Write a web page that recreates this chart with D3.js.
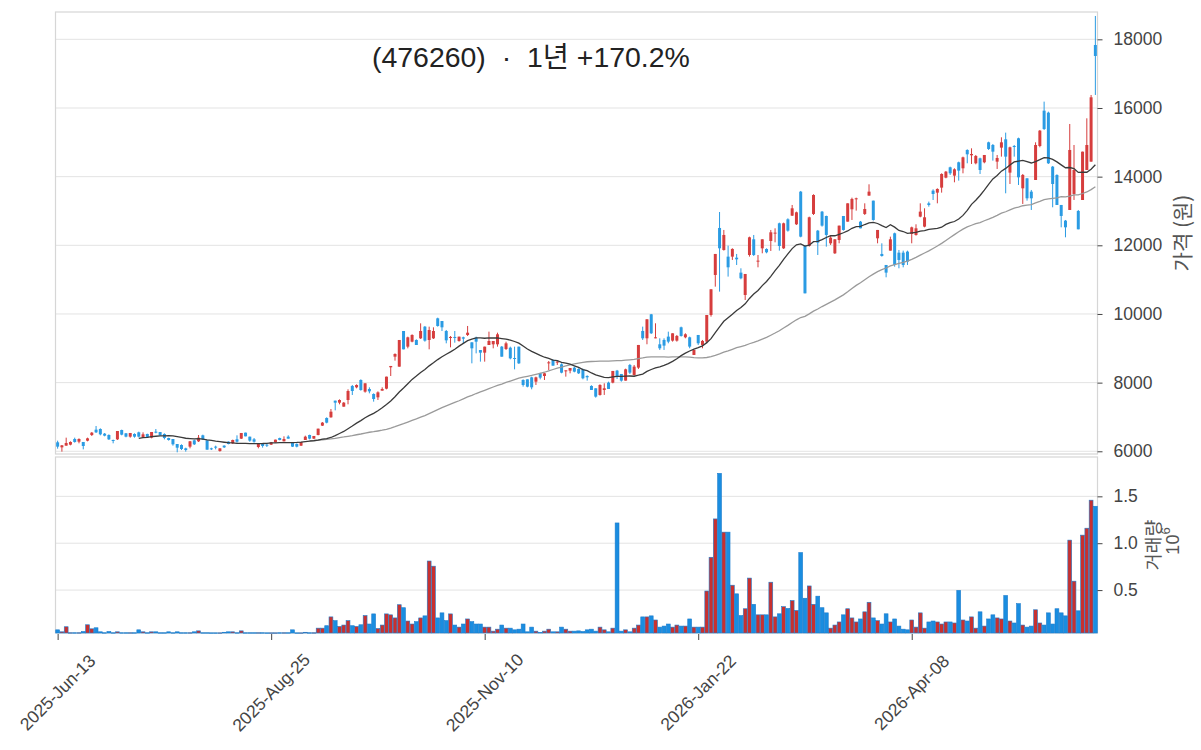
<!DOCTYPE html>
<html><head><meta charset="utf-8">
<script src="https://cdn.jsdelivr.net/npm/d3@7"></script>
<style>body{margin:0;background:#fff}svg{display:block}</style>
</head><body><svg id="c" width="1201" height="750"></svg>
<script>
// ---- data ----
const titleText = "(476260)  ·  1년 +170.2%";
const tickIndex = [0, 50, 100, 150, 200];
const tickLabels = ["2025-Jun-13", "2025-Aug-25", "2025-Nov-10", "2026-Jan-22", "2026-Apr-08"];
const priceTicks = [6000, 8000, 10000, 12000, 14000, 16000, 18000];
const volumeTicks = [0.5, 1.0, 1.5];

const opens = [6261,6115,6164,6193,6358,6280,6271,6309,6474,6630,6649,6513,6474,6329,6348,6620,6523,6426,6504,6552,
6407,6504,6397,6572,6562,6504,6387,6358,6212,6183,6086,6135,6319,6290,6465,6319,6086,6135,6008,6164,
6280,6232,6349,6368,6543,6426,6349,6125,6212,6193,6193,6261,6387,6290,6426,6261,6212,6164,6329,6475,
6368,6475,6747,6970,6989,7475,7416,7300,7494,7902,7863,8077,7737,7815,7669,7572,7766,7824,8446,8756,
8465,9504,9048,9193,9242,9290,9630,9242,9290,9873,9795,9504,9300,9330,9213,9320,9388,9174,9310,8950,
8873,9096,9116,9116,9048,8980,9018,8717,9048,8077,8096,8154,8028,8271,8193,8581,8660,8591,8533,8349,
8349,8436,8397,8388,8194,7903,7835,7641,7786,7999,7999,8350,8252,8058,8514,8223,8437,9505,9291,9990,
9300,9116,9243,9340,9223,9223,9612,9320,9320,8806,9388,9097,9194,9970,11136,12505,11864,11670,11670,11640,
11204,10553,11718,12175,11533,11912,11893,12126,12350,12641,11912,12757,12864,12612,13563,11980,11980,12913,12427,12981,
12854,12058,11767,12155,12854,12689,13049,13340,12689,12913,13447,13301,12204,11748,11427,11845,12350,11786,11786,11816,
12330,12301,12835,12544,13223,13592,13534,13680,13971,14272,14029,14418,14243,14777,14622,14389,14534,14418,15000,14922,
14437,14845,15088,14117,14893,15117,13660,13952,13563,13903,14893,15922,15864,14291,14049,13175,12719,13029,13495,13000,
13320,14194,14437,17835];
const highs = [6309,6183,6397,6290,6397,6377,6271,6397,6562,6737,6669,6533,6494,6339,6591,6630,6533,6533,6523,6572,
6552,6513,6562,6649,6562,6523,6397,6358,6212,6203,6105,6300,6339,6474,6484,6319,6105,6164,6086,6174,
6290,6339,6465,6533,6543,6426,6387,6222,6232,6212,6271,6339,6397,6436,6465,6261,6232,6271,6455,6484,
6446,6659,6853,6989,7232,7475,7513,7435,7805,7931,7950,8096,7980,7863,7688,7746,7863,8174,8485,8853,
9242,9504,9339,9407,9261,9727,9650,9630,9611,9892,9795,9533,9358,9504,9339,9339,9650,9174,9339,8950,
9048,9485,9213,9455,9067,9193,9048,9048,9048,8096,8096,8174,8174,8290,8290,8630,8679,8640,8562,8358,
8426,8465,8417,8407,8213,7922,7835,7951,7980,8028,8340,8370,8252,8407,8544,8514,9097,9631,9845,10000,
9728,9291,9291,9485,9437,9388,9631,9437,9340,8952,9388,9243,9970,10719,11748,12970,12447,11990,11913,11748,
11330,11165,12252,12301,11718,12175,11912,12447,12495,12660,12660,12786,13175,12981,13583,12010,12835,13486,12447,13000,
12864,12272,12175,12573,12854,13223,13388,13388,12709,13223,13777,13301,12447,12058,11427,12252,12369,11864,11845,11845,
12544,12612,13223,13078,13272,13631,13660,14097,14165,14291,14243,14437,14583,14796,14825,14631,14553,14631,15019,14951,
14631,15146,15282,14874,14922,15136,14078,13952,13612,15000,15359,16185,15893,14311,14068,13175,12738,15534,14922,13029,
14728,15699,16379,18680];
const lows = [6076,5989,6164,6174,6251,6232,6057,6290,6445,6533,6465,6436,6329,6232,6329,6465,6407,6397,6397,6407,
6387,6397,6377,6523,6465,6348,6310,6164,5970,6037,5989,6086,6183,6271,6329,6047,6037,6057,5989,6096,
6203,6212,6251,6358,6436,6280,6251,6086,6106,6125,6183,6251,6319,6290,6368,6125,6115,6154,6329,6348,
6358,6465,6737,6814,6979,7193,7368,7300,7368,7640,7834,7766,7708,7688,7446,7494,7766,7805,8193,8640,
8465,8970,8999,9174,9096,9271,9193,8970,9271,9630,9504,9145,9028,9164,9193,9145,9358,8562,8853,8611,
8611,9096,8999,9048,8756,8951,8679,8387,8543,7883,7863,7805,7931,8096,8077,8368,8494,8514,8271,8174,
8271,8300,8252,8097,8058,7786,7563,7622,7641,7815,7980,8107,8029,8058,8252,8204,8398,9243,9117,9418,
9291,8952,8952,9146,9194,9194,9340,9291,9000,8806,9097,9000,9146,9923,10796,10651,11845,11088,11573,11427,
11010,10407,11670,11689,11359,11767,11767,11835,12087,11845,11893,12398,12854,12592,12233,10601,11961,12883,11718,12544,
11961,12010,11748,12058,12427,12689,12738,13010,12495,12883,13447,12719,12058,11670,11068,11845,11378,11330,11359,11427,
12058,12282,12816,12524,13126,13320,13223,13534,13952,14049,13835,13884,14097,14389,14369,14359,14078,14389,14777,14466,
14224,14583,13515,13786,14583,13757,13204,13301,13029,13903,14855,15359,14369,13107,13175,12524,12233,13029,13321,12466,
13320,14194,14437,16379];
const closes = [6135,6173,6241,6271,6271,6358,6154,6377,6542,6552,6494,6455,6348,6310,6591,6484,6426,6533,6426,6426,
6494,6407,6562,6543,6465,6387,6329,6203,6105,6067,6037,6290,6203,6397,6348,6047,6076,6115,6086,6115,
6212,6329,6280,6533,6436,6310,6280,6212,6154,6174,6261,6339,6329,6358,6368,6135,6135,6271,6426,6368,
6446,6659,6834,6834,7154,7416,7494,7416,7756,7756,7931,7785,7980,7746,7523,7717,7815,8174,8485,8834,
9242,8970,9320,9388,9096,9504,9223,9533,9504,9650,9611,9232,9330,9310,9339,9281,9455,8999,9193,8873,
9048,9213,9213,9407,8756,9145,8707,8698,8562,7931,7882,7863,8154,8145,8271,8591,8494,8611,8290,8358,
8426,8319,8271,8126,8155,7786,7592,7932,7835,7815,8340,8175,8058,8388,8291,8466,9097,9291,9845,9437,
9320,9000,9078,9194,9437,9359,9359,9408,9049,8952,9146,9214,9970,10719,11748,11913,12301,11359,11894,11592,
11039,11165,12233,11718,11553,12175,11796,12379,12369,11980,12641,12427,13078,12961,12252,10601,12816,13466,12077,12573,
12301,12223,12175,12573,12447,13223,13350,13369,12495,13058,13563,12738,12447,11689,11204,12175,11427,11573,11427,11524,
12524,12495,12981,12816,13175,13495,13641,14078,14146,14097,14214,14175,14563,14651,14660,14602,14194,14631,14806,14728,
14544,15000,14583,14855,14883,13981,14049,13369,13369,14922,15340,15388,14389,13786,13175,12855,12524,14777,14194,12466,
14728,14922,16311,17515];
// volume in millions of shares
const volumes = [0.076,0.055,0.109,0.045,0.045,0.045,0.058,0.13,0.087,0.098,0.055,0.045,0.058,0.045,0.055,0.045,0.045,0.045,0.045,0.076,
0.055,0.045,0.055,0.055,0.045,0.045,0.055,0.045,0.055,0.045,0.045,0.045,0.055,0.065,0.045,0.045,0.044,0.044,0.044,0.05,
0.055,0.055,0.045,0.065,0.045,0.045,0.045,0.045,0.045,0.044,0.044,0.044,0.045,0.045,0.045,0.076,0.044,0.044,0.05,0.045,
0.045,0.094,0.094,0.12,0.214,0.174,0.112,0.127,0.174,0.12,0.112,0.13,0.228,0.138,0.246,0.09,0.127,0.246,0.236,0.203,
0.344,0.312,0.17,0.138,0.163,0.203,0.225,0.81,0.755,0.203,0.257,0.174,0.246,0.127,0.105,0.138,0.192,0.163,0.138,0.138,
0.105,0.105,0.062,0.083,0.127,0.094,0.094,0.076,0.083,0.138,0.055,0.105,0.062,0.047,0.062,0.083,0.055,0.055,0.105,0.083,
0.062,0.062,0.065,0.058,0.076,0.083,0.062,0.105,0.076,0.055,0.094,1.216,0.062,0.076,0.055,0.094,0.127,0.214,0.214,0.225,
0.181,0.105,0.116,0.138,0.105,0.127,0.116,0.116,0.192,0.105,0.105,0.105,0.49,0.85,1.259,1.745,1.118,1.118,0.552,0.46,
0.228,0.301,0.628,0.348,0.236,0.236,0.236,0.584,0.214,0.247,0.323,0.304,0.388,0.283,0.9,0.413,0.544,0.348,0.435,0.312,
0.257,0.094,0.127,0.16,0.236,0.301,0.203,0.16,0.192,0.268,0.37,0.203,0.174,0.138,0.247,0.16,0.192,0.116,0.083,0.076,
0.181,0.105,0.257,0.094,0.16,0.17,0.16,0.138,0.16,0.16,0.149,0.497,0.181,0.17,0.214,0.094,0.268,0.116,0.192,0.236,
0.203,0.192,0.442,0.17,0.149,0.355,0.127,0.105,0.116,0.29,0.149,0.127,0.257,0.138,0.301,0.257,0.225,1.033,0.595,0.279,
1.086,1.16,1.459,1.394];

// ---- layout ----
const N = closes.length;
const L = 55.5, R = 1097.5;
const pTop = 12, pBot = 454, vTop = 457, vBot = 633;
const upC = "#d63d3d", dnC = "#2a9be3";
const upV = "#c8302f", dnV = "#1a8de0";
const font = "'Liberation Sans', 'Noto Sans CJK KR', sans-serif";
const kfont = "'Noto Sans CJK KR', sans-serif";

const svg = d3.select("#c");
const x = d3.scaleLinear().domain([-0.5, N - 0.5]).range([L, R]);
const step = x(1) - x(0);
const y = d3.scaleLinear().domain([5921, 18796]).range([pBot, pTop]);
const yv = d3.scaleLinear().domain([0.3 * d3.min(volumes) * 3.2, 1.1 * d3.max(volumes)]).range([vBot, vTop]);

// grids
svg.append("g").selectAll("line").data(priceTicks).join("line")
  .attr("x1", L).attr("x2", R).attr("y1", d => y(d)).attr("y2", d => y(d))
  .attr("stroke", "#e3e3e3").attr("stroke-width", 1);
svg.append("g").selectAll("line").data(volumeTicks).join("line")
  .attr("x1", L).attr("x2", R).attr("y1", d => yv(d)).attr("y2", d => yv(d))
  .attr("stroke", "#e3e3e3").attr("stroke-width", 1);

// panels frames
svg.append("rect").attr("x", L).attr("y", pTop).attr("width", R - L).attr("height", pBot - pTop)
  .attr("fill", "none").attr("stroke", "#d6d6d6").attr("stroke-width", 1.2);
svg.append("rect").attr("x", L).attr("y", vTop).attr("width", R - L).attr("height", vBot - vTop)
  .attr("fill", "none").attr("stroke", "#d6d6d6").attr("stroke-width", 1.2);

const idx = d3.range(N);
const isUp = i => closes[i] >= opens[i];

// volume bars
svg.append("g").selectAll("rect").data(idx).join("rect")
  .attr("x", i => x(i) - step * 0.45).attr("width", step * 0.9)
  .attr("y", i => yv(volumes[i])).attr("height", i => Math.max(0.5, vBot - yv(volumes[i])))
  .attr("fill", i => isUp(i) ? upV : dnV)
  .attr("stroke", "#1d7ccc").attr("stroke-width", 0.6);

// candles
const cg = svg.append("g");
cg.selectAll("line").data(idx).join("line")
  .attr("x1", i => x(i)).attr("x2", i => x(i))
  .attr("y1", i => y(highs[i])).attr("y2", i => y(lows[i]))
  .attr("stroke", i => isUp(i) ? upC : dnC).attr("stroke-width", 1);
cg.selectAll("rect").data(idx).join("rect")
  .attr("x", i => x(i) - step * 0.35).attr("width", step * 0.7)
  .attr("y", i => y(Math.max(opens[i], closes[i])))
  .attr("height", i => Math.max(1, Math.abs(y(opens[i]) - y(closes[i]))))
  .attr("fill", i => isUp(i) ? upC : dnC);

// moving averages of the closes
function ma(n) {
  return idx.map(i => i < n - 1 ? null : d3.mean(closes.slice(i - n + 1, i + 1)));
}
const ma20 = ma(20), ma60 = ma(60);
const line = d3.line().defined(d => d[1] != null).x(d => x(d[0])).y(d => y(d[1]));
svg.append("path").attr("d", line(ma60.map((v, i) => [i, v])))
  .attr("fill", "none").attr("stroke", "#9a9a9a").attr("stroke-width", 1.3);
svg.append("path").attr("d", line(ma20.map((v, i) => [i, v])))
  .attr("fill", "none").attr("stroke", "#3a3a3a").attr("stroke-width", 1.3);

// right price axis
const pa = svg.append("g").attr("transform", `translate(${R},0)`)
  .call(d3.axisRight(y).tickValues(priceTicks).tickSize(5).tickPadding(11).tickFormat(d3.format("d")));
pa.select(".domain").remove();
pa.selectAll("line").attr("stroke", "#444");
pa.selectAll("text").attr("font-family", font).attr("font-size", 17.5).attr("fill", "#444");

const va = svg.append("g").attr("transform", `translate(${R},0)`)
  .call(d3.axisRight(yv).tickValues(volumeTicks).tickSize(5).tickPadding(11).tickFormat(d3.format(".1f")));
va.select(".domain").remove();
va.selectAll("line").attr("stroke", "#444");
va.selectAll("text").attr("font-family", font).attr("font-size", 17.5).attr("fill", "#444");

// x axis
const xa = svg.append("g").attr("transform", `translate(0,${vBot + 1})`)
  .call(d3.axisBottom(x).tickValues(tickIndex).tickSize(6).tickFormat(""));
xa.select(".domain").remove();
xa.selectAll("line").attr("stroke", "#444");
svg.append("g").selectAll("text").data(tickIndex).join("text")
  .attr("transform", d => `translate(${x(d)},${692.5}) rotate(-45)`)
  .attr("text-anchor", "middle").attr("dominant-baseline", "central")
  .attr("font-family", font).attr("font-size", 17.5).attr("fill", "#444")
  .text((d, k) => tickLabels[k]);

// axis labels
svg.append("text").attr("transform", `translate(1181,${(pTop + pBot) / 2}) rotate(-90)`)
  .attr("text-anchor", "middle").attr("dominant-baseline", "central")
  .attr("font-family", kfont).attr("font-size", 21).attr("fill", "#555").text("가격 (원)");
svg.append("text").attr("transform", `translate(1152,${(vTop + vBot) / 2}) rotate(-90)`)
  .attr("text-anchor", "middle").attr("dominant-baseline", "central")
  .attr("font-family", kfont).attr("font-size", 18.5).attr("fill", "#555").text("거래량");
const ex = svg.append("text").attr("transform", `translate(1173,${(vTop + vBot) / 2 - 4}) rotate(-90)`)
  .attr("text-anchor", "middle").attr("dominant-baseline", "central")
  .attr("font-family", font).attr("font-size", 18).attr("fill", "#555");
ex.append("tspan").text("10");
ex.append("tspan").attr("dy", -8).attr("font-size", 13).text("6");

// title, fitted to the reference width
const tt = svg.append("text").attr("x", 372).attr("y", 67)
  .attr("font-family", font).attr("font-size", 24).attr("fill", "#222")
  .style("white-space", "pre").text(titleText);
const w = tt.node().getComputedTextLength();
tt.attr("font-size", 24 * 318 / w);
</script></body></html>
